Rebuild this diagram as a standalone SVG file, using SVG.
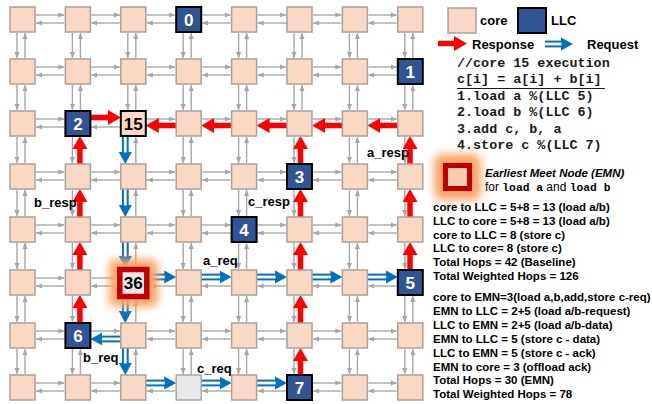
<svg xmlns="http://www.w3.org/2000/svg" width="652" height="404" viewBox="0 0 652 404">
<defs>
<style>
.g{stroke:#A6A6A6;stroke-width:1.4;fill:none;marker-end:url(#ga)}
.r{stroke:#FF0000;stroke-width:5.5;fill:none;marker-end:url(#ra)}
.b{stroke:#0070C0;stroke-width:6.8;fill:none;marker-end:url(#ba)}
.bw{stroke:#FFFFFF;stroke-width:2.8;fill:none}
.c{fill:#F9D9C4;stroke:#A9A09A;stroke-width:1.5}
.l{fill:#2F5597;stroke:#000;stroke-width:2}
.nt{font-family:"Liberation Sans",Arial,sans-serif;font-weight:bold;font-size:17px;text-anchor:middle}
.w{fill:#FFFFFF}
.k{fill:#000}
.lab{font-family:"Liberation Sans",Arial,sans-serif;font-weight:bold;font-size:13px;fill:#000}
.mono{font-family:"Liberation Mono","Courier New",monospace;font-weight:bold;font-size:13.4px;fill:#1a1a1a}
.st{font-family:"Liberation Sans",Arial,sans-serif;font-weight:bold;font-size:11.5px;fill:#000}
.glow{fill:#F7A468;filter:url(#blur)}
</style>
<marker id="ga" markerWidth="6" markerHeight="6" refX="6" refY="3" orient="auto" markerUnits="userSpaceOnUse"><path d="M0,0.4 L6,3 L0,5.6z" fill="#A6A6A6"/></marker>
<marker id="ra" markerWidth="14" markerHeight="15" refX="3" refY="7.5" orient="auto" markerUnits="userSpaceOnUse"><path d="M0,0 L13,7.5 L0,15z" fill="#FF0000"/></marker>
<marker id="ba" markerWidth="13" markerHeight="14" refX="2" refY="7" orient="auto" markerUnits="userSpaceOnUse"><path d="M0,0.5 L12,7 L0,13.5z" fill="#0070C0"/></marker>
<filter id="blur" x="-60%" y="-60%" width="220%" height="220%"><feGaussianBlur stdDeviation="4"/></filter>
</defs>
<rect width="652" height="404" fill="#FFFFFF"/>

<g id="connectors">
<g id="gray-links">
<path class="g" d="M36 15H64.4"/><path class="g" d="M64.4 23H36"/>
<path class="g" d="M91.4 15H119.8"/><path class="g" d="M119.8 23H91.4"/>
<path class="g" d="M146.8 15H175.2"/><path class="g" d="M175.2 23H146.8"/>
<path class="g" d="M202.2 15H230.6"/><path class="g" d="M230.6 23H202.2"/>
<path class="g" d="M257.6 15H286"/><path class="g" d="M286 23H257.6"/>
<path class="g" d="M313 15H341.4"/><path class="g" d="M341.4 23H313"/>
<path class="g" d="M368.4 15H396.8"/><path class="g" d="M396.8 23H368.4"/>
<path class="g" d="M36 67H64.4"/><path class="g" d="M64.4 75H36"/>
<path class="g" d="M91.4 67H119.8"/><path class="g" d="M119.8 75H91.4"/>
<path class="g" d="M146.8 67H175.2"/><path class="g" d="M175.2 75H146.8"/>
<path class="g" d="M202.2 67H230.6"/><path class="g" d="M230.6 75H202.2"/>
<path class="g" d="M257.6 67H286"/><path class="g" d="M286 75H257.6"/>
<path class="g" d="M313 67H341.4"/><path class="g" d="M341.4 75H313"/>
<path class="g" d="M368.4 67H396.8"/><path class="g" d="M396.8 75H368.4"/>
<path class="g" d="M36 119H64.4"/><path class="g" d="M64.4 127H36"/>
<path class="g" d="M119.8 127H91.4"/>
<path class="g" d="M146.8 119H175.2"/>
<path class="g" d="M202.2 119H230.6"/>
<path class="g" d="M257.6 119H286"/>
<path class="g" d="M313 119H341.4"/>
<path class="g" d="M368.4 119H396.8"/>
<path class="g" d="M36 172H64.4"/><path class="g" d="M64.4 180H36"/>
<path class="g" d="M91.4 172H119.8"/><path class="g" d="M119.8 180H91.4"/>
<path class="g" d="M146.8 172H175.2"/><path class="g" d="M175.2 180H146.8"/>
<path class="g" d="M202.2 172H230.6"/><path class="g" d="M230.6 180H202.2"/>
<path class="g" d="M257.6 172H286"/><path class="g" d="M286 180H257.6"/>
<path class="g" d="M313 172H341.4"/><path class="g" d="M341.4 180H313"/>
<path class="g" d="M368.4 172H396.8"/><path class="g" d="M396.8 180H368.4"/>
<path class="g" d="M36 225H64.4"/><path class="g" d="M64.4 233H36"/>
<path class="g" d="M91.4 225H119.8"/><path class="g" d="M119.8 233H91.4"/>
<path class="g" d="M146.8 225H175.2"/><path class="g" d="M175.2 233H146.8"/>
<path class="g" d="M202.2 225H230.6"/><path class="g" d="M230.6 233H202.2"/>
<path class="g" d="M257.6 225H286"/><path class="g" d="M286 233H257.6"/>
<path class="g" d="M313 225H341.4"/><path class="g" d="M341.4 233H313"/>
<path class="g" d="M368.4 225H396.8"/><path class="g" d="M396.8 233H368.4"/>
<path class="g" d="M36 278H64.4"/><path class="g" d="M64.4 286H36"/>
<path class="g" d="M91.4 278H116.5"/><path class="g" d="M119.8 286H91.4"/>
<path class="g" d="M175.2 286H150"/>
<path class="g" d="M230.6 286H202.2"/>
<path class="g" d="M286 286H257.6"/>
<path class="g" d="M341.4 286H313"/>
<path class="g" d="M396.8 286H368.4"/>
<path class="g" d="M36 331H64.4"/><path class="g" d="M64.4 339H36"/>
<path class="g" d="M91.4 331H119.8"/>
<path class="g" d="M146.8 331H175.2"/><path class="g" d="M175.2 339H146.8"/>
<path class="g" d="M202.2 331H230.6"/><path class="g" d="M230.6 339H202.2"/>
<path class="g" d="M257.6 331H286"/><path class="g" d="M286 339H257.6"/>
<path class="g" d="M313 331H341.4"/><path class="g" d="M341.4 339H313"/>
<path class="g" d="M368.4 331H396.8"/><path class="g" d="M396.8 339H368.4"/>
<path class="g" d="M36 383H64.4"/><path class="g" d="M64.4 391H36"/>
<path class="g" d="M91.4 383H119.8"/><path class="g" d="M119.8 391H91.4"/>
<path class="g" d="M175.2 391H146.8"/>
<path class="g" d="M230.6 391H202.2"/>
<path class="g" d="M286 391H257.6"/>
<path class="g" d="M313 383H341.4"/><path class="g" d="M341.4 391H313"/>
<path class="g" d="M368.4 383H396.8"/><path class="g" d="M396.8 391H368.4"/>

<path class="g" d="M17 33V58"/><path class="g" d="M25 58V33"/>
<path class="g" d="M17 85V110"/><path class="g" d="M25 110V85"/>
<path class="g" d="M17 137V163"/><path class="g" d="M25 163V137"/>
<path class="g" d="M17 190V216"/><path class="g" d="M25 216V190"/>
<path class="g" d="M17 243V269"/><path class="g" d="M25 269V243"/>
<path class="g" d="M17 296V322"/><path class="g" d="M25 322V296"/>
<path class="g" d="M17 349V374"/><path class="g" d="M25 374V349"/>
<path class="g" d="M72.4 33V58"/><path class="g" d="M80.4 58V33"/>
<path class="g" d="M72.4 85V110"/><path class="g" d="M80.4 110V85"/>
<path class="g" d="M72.4 137V163"/>
<path class="g" d="M72.4 190V216"/>
<path class="g" d="M72.4 243V269"/>
<path class="g" d="M72.4 296V322"/>
<path class="g" d="M72.4 349V374"/><path class="g" d="M80.4 374V349"/>
<path class="g" d="M127.8 33V58"/><path class="g" d="M135.8 58V33"/>
<path class="g" d="M127.8 85V110"/><path class="g" d="M135.8 110V85"/>
<path class="g" d="M135.8 163V137"/>
<path class="g" d="M135.8 216V190"/>
<path class="g" d="M135.8 266V243"/>
<path class="g" d="M135.8 322V300"/>
<path class="g" d="M135.8 374V349"/>
<path class="g" d="M183.2 33V58"/><path class="g" d="M191.2 58V33"/>
<path class="g" d="M183.2 85V110"/><path class="g" d="M191.2 110V85"/>
<path class="g" d="M183.2 137V163"/><path class="g" d="M191.2 163V137"/>
<path class="g" d="M183.2 190V216"/><path class="g" d="M191.2 216V190"/>
<path class="g" d="M183.2 243V269"/><path class="g" d="M191.2 269V243"/>
<path class="g" d="M183.2 296V322"/><path class="g" d="M191.2 322V296"/>
<path class="g" d="M183.2 349V374"/><path class="g" d="M191.2 374V349"/>
<path class="g" d="M238.6 33V58"/><path class="g" d="M246.6 58V33"/>
<path class="g" d="M238.6 85V110"/><path class="g" d="M246.6 110V85"/>
<path class="g" d="M238.6 137V163"/><path class="g" d="M246.6 163V137"/>
<path class="g" d="M238.6 190V216"/><path class="g" d="M246.6 216V190"/>
<path class="g" d="M238.6 243V269"/><path class="g" d="M246.6 269V243"/>
<path class="g" d="M238.6 296V322"/><path class="g" d="M246.6 322V296"/>
<path class="g" d="M238.6 349V374"/><path class="g" d="M246.6 374V349"/>
<path class="g" d="M294 33V58"/><path class="g" d="M302 58V33"/>
<path class="g" d="M294 85V110"/><path class="g" d="M302 110V85"/>
<path class="g" d="M294 137V163"/>
<path class="g" d="M294 190V216"/>
<path class="g" d="M294 243V269"/>
<path class="g" d="M294 296V322"/>
<path class="g" d="M294 349V374"/>
<path class="g" d="M349.4 33V58"/><path class="g" d="M357.4 58V33"/>
<path class="g" d="M349.4 85V110"/><path class="g" d="M357.4 110V85"/>
<path class="g" d="M349.4 137V163"/><path class="g" d="M357.4 163V137"/>
<path class="g" d="M349.4 190V216"/><path class="g" d="M357.4 216V190"/>
<path class="g" d="M349.4 243V269"/><path class="g" d="M357.4 269V243"/>
<path class="g" d="M349.4 296V322"/><path class="g" d="M357.4 322V296"/>
<path class="g" d="M349.4 349V374"/><path class="g" d="M357.4 374V349"/>
<path class="g" d="M404.8 33V58"/><path class="g" d="M412.8 58V33"/>
<path class="g" d="M404.8 85V110"/><path class="g" d="M412.8 110V85"/>
<path class="g" d="M404.8 137V163"/>
<path class="g" d="M404.8 190V216"/>
<path class="g" d="M404.8 243V269"/>
<path class="g" d="M404.8 296V322"/><path class="g" d="M412.8 322V296"/>
<path class="g" d="M404.8 349V374"/><path class="g" d="M412.8 374V349"/>
</g>

<g id="responses">
<path class="r" d="M90.4 117.5H110.8"/>
<path class="r" d="M397.8 125.5H377.4"/>
<path class="r" d="M342.4 125.5H322"/>
<path class="r" d="M287 125.5H266.6"/>
<path class="r" d="M231.6 125.5H211.2"/>
<path class="r" d="M176.2 125.5H155.8"/>
<path class="r" d="M79.9 164V146"/>
<path class="r" d="M79.9 217V199"/>
<path class="r" d="M79.9 270V252"/>
<path class="r" d="M79.9 323V305"/>
<path class="r" d="M300.5 164V146"/>
<path class="r" d="M300.5 217V199"/>
<path class="r" d="M300.5 270V252"/>
<path class="r" d="M300.5 323V305"/>
<path class="r" d="M300.5 375V358"/>
<path class="r" d="M410 164V146"/>
<path class="r" d="M410 217V199"/>
<path class="r" d="M410 270V252"/>
</g>

<g id="requests">
<path class="b" d="M125.3 136V154"/><path class="bw" d="M125.3 136V152.5"/>
<path class="b" d="M125.3 189V207"/><path class="bw" d="M125.3 189V205.5"/>
<path class="b" d="M125.3 242V258"/><path class="bw" d="M125.3 242V256.5"/>
<path class="b" d="M125.3 298V313"/><path class="bw" d="M125.3 298V311.5"/>
<path class="b" d="M125.3 348V365"/><path class="bw" d="M125.3 348V363.5"/>
<path class="b" d="M149.5 277H166.2"/><path class="bw" d="M149.5 277H164.7"/>
<path class="b" d="M201.2 277H221.6"/><path class="bw" d="M201.2 277H220.1"/>
<path class="b" d="M256.6 277H277"/><path class="bw" d="M256.6 277H275.5"/>
<path class="b" d="M312 277H332.4"/><path class="bw" d="M312 277H330.9"/>
<path class="b" d="M367.4 277H387.8"/><path class="bw" d="M367.4 277H386.3"/>
<path class="b" d="M120.8 339H100.4"/><path class="bw" d="M120.8 339H101.9"/>
<path class="b" d="M145.8 383H166.2"/><path class="bw" d="M145.8 383H164.7"/>
<path class="b" d="M201.2 383H221.6"/><path class="bw" d="M201.2 383H220.1"/>
<path class="b" d="M256.6 383H277"/><path class="bw" d="M256.6 383H275.5"/>
</g>

<g id="link-labels">
<text class="lab" x="34" y="207">b_resp</text>
<text class="lab" x="248" y="205.5">c_resp</text>
<text class="lab" x="367" y="157">a_resp</text>
<text class="lab" x="203" y="265">a_req</text>
<text class="lab" x="83" y="361.5">b_req</text>
<text class="lab" x="197" y="373">c_req</text>
</g>
</g>

<g id="nodes">
<g id="n0-0"><rect class="c" x="10" y="7" width="25" height="25"/></g>
<g id="n0-1"><rect class="c" x="65.4" y="7" width="25" height="25"/></g>
<g id="n0-2"><rect class="c" x="120.8" y="7" width="25" height="25"/></g>
<g id="llc0"><rect class="l" x="176.2" y="7" width="25" height="25"/><text class="nt w" x="188.7" y="25.5">0</text></g>
<g id="n0-4"><rect class="c" x="231.6" y="7" width="25" height="25"/></g>
<g id="n0-5"><rect class="c" x="287" y="7" width="25" height="25"/></g>
<g id="n0-6"><rect class="c" x="342.4" y="7" width="25" height="25"/></g>
<g id="n0-7"><rect class="c" x="397.8" y="7" width="25" height="25"/></g>

<g id="n1-0"><rect class="c" x="10" y="59" width="25" height="25"/></g>
<g id="n1-1"><rect class="c" x="65.4" y="59" width="25" height="25"/></g>
<g id="n1-2"><rect class="c" x="120.8" y="59" width="25" height="25"/></g>
<g id="n1-3"><rect class="c" x="176.2" y="59" width="25" height="25"/></g>
<g id="n1-4"><rect class="c" x="231.6" y="59" width="25" height="25"/></g>
<g id="n1-5"><rect class="c" x="287" y="59" width="25" height="25"/></g>
<g id="n1-6"><rect class="c" x="342.4" y="59" width="25" height="25"/></g>
<g id="llc1"><rect class="l" x="397.8" y="59" width="25" height="25"/><text class="nt w" x="410.3" y="77.5">1</text></g>

<g id="n2-0"><rect class="c" x="10" y="111" width="25" height="25"/></g>
<g id="llc2"><rect class="l" x="65.4" y="111" width="25" height="25"/><text class="nt w" x="77.9" y="129.5">2</text></g>
<g id="core15"><rect class="c" x="120.8" y="111" width="25" height="25" style="stroke:#000;stroke-width:2"/><text class="nt k" x="133.3" y="129.5">15</text></g>
<g id="n2-3"><rect class="c" x="176.2" y="111" width="25" height="25"/></g>
<g id="n2-4"><rect class="c" x="231.6" y="111" width="25" height="25"/></g>
<g id="n2-5"><rect class="c" x="287" y="111" width="25" height="25"/></g>
<g id="n2-6"><rect class="c" x="342.4" y="111" width="25" height="25"/></g>
<g id="n2-7"><rect class="c" x="397.8" y="111" width="25" height="25"/></g>

<g id="n3-0"><rect class="c" x="10" y="164" width="25" height="25"/></g>
<g id="n3-1"><rect class="c" x="65.4" y="164" width="25" height="25"/></g>
<g id="n3-2"><rect class="c" x="120.8" y="164" width="25" height="25"/></g>
<g id="n3-3"><rect class="c" x="176.2" y="164" width="25" height="25"/></g>
<g id="n3-4"><rect class="c" x="231.6" y="164" width="25" height="25"/></g>
<g id="llc3"><rect class="l" x="287" y="164" width="25" height="25"/><text class="nt w" x="299.5" y="182.5">3</text></g>
<g id="n3-6"><rect class="c" x="342.4" y="164" width="25" height="25"/></g>
<g id="n3-7"><rect class="c" x="397.8" y="164" width="25" height="25"/></g>

<g id="n4-0"><rect class="c" x="10" y="217" width="25" height="25"/></g>
<g id="n4-1"><rect class="c" x="65.4" y="217" width="25" height="25"/></g>
<g id="n4-2"><rect class="c" x="120.8" y="217" width="25" height="25"/></g>
<g id="n4-3"><rect class="c" x="176.2" y="217" width="25" height="25"/></g>
<g id="llc4"><rect class="l" x="231.6" y="217" width="25" height="25"/><text class="nt w" x="244.1" y="235.5">4</text></g>
<g id="n4-5"><rect class="c" x="287" y="217" width="25" height="25"/></g>
<g id="n4-6"><rect class="c" x="342.4" y="217" width="25" height="25"/></g>
<g id="n4-7"><rect class="c" x="397.8" y="217" width="25" height="25"/></g>

<g id="n5-0"><rect class="c" x="10" y="270" width="25" height="25"/></g>
<g id="n5-1"><rect class="c" x="65.4" y="270" width="25" height="25"/></g>
<g id="emn36"><rect class="glow" x="109" y="259" width="49" height="48" rx="8"/><rect x="119.8" y="269.5" width="27" height="27" fill="#E6E6E6" stroke="#C00000" stroke-width="5.5"/><text class="nt k" x="133.3" y="289">36</text></g>
<g id="n5-3"><rect class="c" x="176.2" y="270" width="25" height="25"/></g>
<g id="n5-4"><rect class="c" x="231.6" y="270" width="25" height="25"/></g>
<g id="n5-5"><rect class="c" x="287" y="270" width="25" height="25"/></g>
<g id="n5-6"><rect class="c" x="342.4" y="270" width="25" height="25"/></g>
<g id="llc5"><rect class="l" x="397.8" y="270" width="25" height="25"/><text class="nt w" x="410.3" y="288.5">5</text></g>

<g id="n6-0"><rect class="c" x="10" y="323" width="25" height="25"/></g>
<g id="llc6"><rect class="l" x="65.4" y="323" width="25" height="25"/><text class="nt w" x="77.9" y="341.5">6</text></g>
<g id="n6-2"><rect class="c" x="120.8" y="323" width="25" height="25"/></g>
<g id="n6-3"><rect class="c" x="176.2" y="323" width="25" height="25"/></g>
<g id="n6-4"><rect class="c" x="231.6" y="323" width="25" height="25"/></g>
<g id="n6-5"><rect class="c" x="287" y="323" width="25" height="25"/></g>
<g id="n6-6"><rect class="c" x="342.4" y="323" width="25" height="25"/></g>
<g id="n6-7"><rect class="c" x="397.8" y="323" width="25" height="25"/></g>

<g id="n7-0"><rect class="c" x="10" y="375" width="25" height="25"/></g>
<g id="n7-1"><rect class="c" x="65.4" y="375" width="25" height="25"/></g>
<g id="n7-2"><rect class="c" x="120.8" y="375" width="25" height="25"/></g>
<g id="n7-3"><rect x="176.2" y="375" width="25" height="25" fill="#E8E8E8" stroke="#A6A6A6" stroke-width="1.5"/></g>
<g id="n7-4"><rect class="c" x="231.6" y="375" width="25" height="25"/></g>
<g id="llc7"><rect class="l" x="287" y="375" width="25" height="25"/><text class="nt w" x="299.5" y="393.5">7</text></g>
<g id="n7-6"><rect class="c" x="342.4" y="375" width="25" height="25"/></g>
<g id="n7-7"><rect class="c" x="397.8" y="375" width="25" height="25"/></g>
</g>

<g id="legend">
<rect class="c" x="448" y="8" width="28" height="25"/>
<text class="lab" x="480" y="24.5">core</text>
<rect class="l" x="518" y="8" width="28" height="25"/>
<text class="lab" x="551" y="24.5">LLC</text>
<path class="r" d="M438 43.5H457"/>
<text class="lab" x="472" y="48.5">Response</text>
<path class="b" d="M545 44H563"/><path class="bw" d="M545 44H561.5"/>
<text class="lab" x="587" y="48.5">Request</text>
</g>

<g id="code">
<text class="mono" x="457" y="67">//core 15 execution</text>
<text class="mono" x="457" y="83.4">c[i] = a[i] + b[i]</text>
<line x1="457" y1="88.5" x2="605" y2="88.5" stroke="#1a1a1a" stroke-width="1"/>
<text class="mono" x="457" y="99.8">1.load a %(LLC 5)</text>
<text class="mono" x="457" y="116.2">2.load b %(LLC 6)</text>
<text class="mono" x="457" y="132.6">3.add c, b, a</text>
<text class="mono" x="457" y="149">4.store c %(LLC 7)</text>
</g>

<g id="emn-legend">
<rect class="glow" x="434" y="154" width="47" height="46" rx="8"/>
<rect x="445.5" y="165.5" width="24" height="23" fill="#F8CBAD" stroke="#C00000" stroke-width="5"/>
<text x="485" y="177" style="font-family:'Liberation Sans',Arial,sans-serif;font-weight:bold;font-style:italic;font-size:11.5px;fill:#000">Earliest Meet Node (EMN)</text>
<text x="485" y="190.5" style="font-family:'Liberation Sans',Arial,sans-serif;font-size:12px;fill:#000">for <tspan style="font-family:'Liberation Mono','Courier New',monospace;font-weight:bold;font-size:11.3px">load a</tspan> and <tspan style="font-family:'Liberation Mono','Courier New',monospace;font-weight:bold;font-size:11.3px">load b</tspan></text>
</g>

<g id="stats">
<text class="st" x="433" y="211">core to LLC = 5+8 = 13 (load a/b)</text>
<text class="st" x="433" y="224.8">LLC to core = 5+8 = 13 (load a/b)</text>
<text class="st" x="433" y="238.6">core to LLC = 8 (store c)</text>
<text class="st" x="433" y="252.4">LLC to core= 8 (store c)</text>
<text class="st" x="433" y="266.2">Total Hops = 42 (Baseline)</text>
<text class="st" x="433" y="280">Total Weighted Hops = 126</text>
<text class="st" x="433" y="301">core to EMN=3(load a,b,add,store c-req)</text>
<text class="st" x="433" y="314.9">EMN to LLC = 2+5 (load a/b-request)</text>
<text class="st" x="433" y="328.8">LLC to EMN = 2+5 (load a/b-data)</text>
<text class="st" x="433" y="342.7">EMN to LLC = 5 (store c - data)</text>
<text class="st" x="433" y="356.6">LLC to EMN = 5 (store c - ack)</text>
<text class="st" x="433" y="370.5">EMN to core = 3 (offload ack)</text>
<text class="st" x="433" y="384.4">Total Hops = 30 (EMN)</text>
<text class="st" x="433" y="398.3">Total Weighted Hops = 78</text>
</g>
</svg>
